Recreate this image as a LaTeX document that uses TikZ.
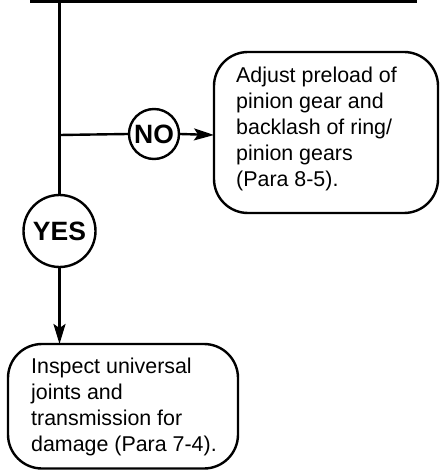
\documentclass[tikz,border=0pt]{standalone}
\usepackage{fontspec}
\setmainfont{Liberation Sans}
\usetikzlibrary{arrows.meta}
\begin{document}
\begin{tikzpicture}[x=1pt,y=-1pt,
  flow/.style={line width=2.4pt},
  tip/.style={-{Stealth[length=20pt,width=12pt,inset=4pt]}},
  decision/.style={draw,circle,line width=2.4pt,inner sep=0pt,
    font=\bfseries\fontsize{26.5}{26.5}\selectfont},
  task/.style={draw,rounded corners=34pt,line width=2.4pt},
  tasktext/.style={anchor=north west,align=left,inner sep=0pt,
    font=\fontsize{21.4}{26}\selectfont}]
\useasboundingbox (0,0) rectangle (439,470);
% incoming bar from the previous step
\draw[line width=3.2pt] (30,1.6) -- (417,1.6);
\coordinate (top) at (59.5,0);
\coordinate (split) at (59.5,135);
% decisions
\node[decision,minimum size=50pt] (no) at (154,134) {NO};
\node[decision,minimum size=72pt] (yes) at (59.5,231) {YES};
% action boxes
\draw[task] (214,52) rectangle (438,213);
\coordinate (adjust) at (214,135);
\node[tasktext] (adjtext) at (236,67) {Adjust preload of\\pinion gear and\\backlash of ring/\\pinion gears\\(Para 8-5).};
\draw[task] (8,344) rectangle (238,468.5);
\coordinate (inspect) at (59.5,344);
\node[tasktext] (insptext) at (31,358) {Inspect universal\\joints and\\transmission for\\damage (Para 7-4).};
% connectors
\draw[flow] (top) -- (yes.north);
\draw[flow] (split) -- (no.west);
\draw[flow,tip] (no.east) -- (adjust);
\draw[flow,tip] (yes.south) -- (inspect);
\end{tikzpicture}
\end{document}
